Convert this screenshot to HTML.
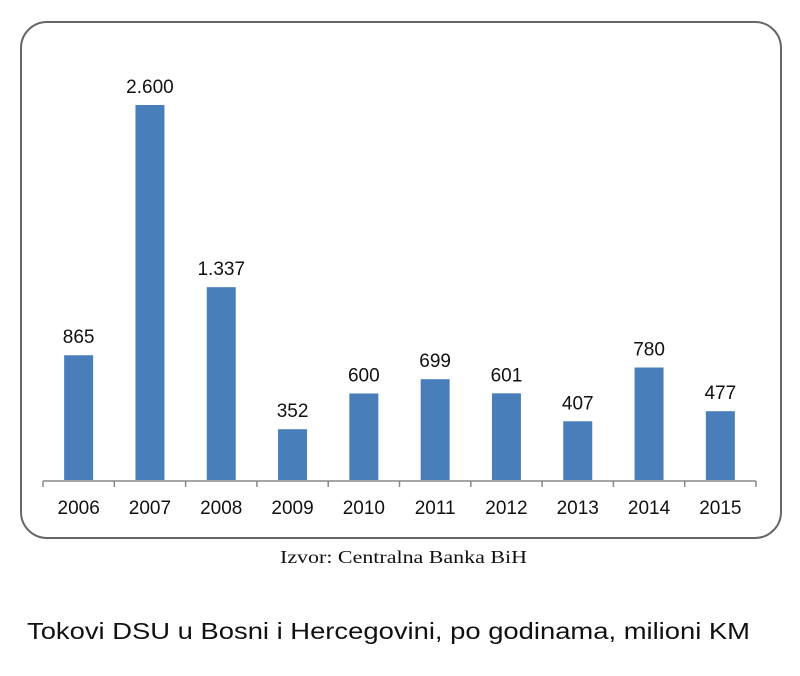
<!DOCTYPE html>
<html><head><meta charset="utf-8"><style>
body{margin:0;background:#fff;width:800px;height:676px;overflow:hidden}
svg{display:block}
</style></head><body>
<svg width="800" height="676">
<rect x="21" y="22" width="760" height="516" rx="26" fill="#fff" stroke="#666" stroke-width="2"/>
<g id="plot"></g>
<text x="280" y="563" textLength="247" lengthAdjust="spacingAndGlyphs" font-family="Liberation Serif, serif" font-size="18" fill="#111">Izvor: Centralna Banka BiH</text>
<text x="27" y="639" textLength="723" lengthAdjust="spacingAndGlyphs" font-family="Liberation Sans, sans-serif" font-size="23" fill="#111">Tokovi DSU u Bosni i Hercegovini, po godinama, milioni KM</text>
</svg>
<script>
const categories=["2006","2007","2008","2009","2010","2011","2012","2013","2014","2015"];
const values=[865,2600,1337,352,600,699,601,407,780,477];
const valueLabels=["865","2.600","1.337","352","600","699","601","407","780","477"];
const NS="http://www.w3.org/2000/svg";
const g=document.getElementById('plot');
const x0=43,step=71.3,base=480,scale=375/2600,bw=29;
const xc=i=>x0+step*(i+0.5);
const y=v=>base-v*scale;
function mk(t,a){const e=document.createElementNS(NS,t);for(const k in a)e.setAttribute(k,a[k]);g.appendChild(e);return e;}
const ax=mk('line',{x1:x0,x2:x0+step*categories.length,y1:base+1,y2:base+1,stroke:'#888','stroke-width':1.5});


for(let i=0;i<=categories.length;i++){
 const t=mk('line',{x1:x0+step*i,x2:x0+step*i,y1:base+1,y2:base+7,stroke:'#888','stroke-width':1.5});
 
 
}
categories.forEach((c,i)=>{
 const b=mk('rect',{x:xc(i)-bw/2,y:y(values[i]),width:bw,height:base-y(values[i]),fill:'#4a7ebb'});
 
 
 const l=mk('text',{x:xc(i),y:y(values[i])-12,'text-anchor':'middle','font-family':'Liberation Sans, sans-serif','font-size':19,fill:'#111'});
 l.textContent=valueLabels[i];
 
 
 const cl=mk('text',{x:xc(i),y:514,'text-anchor':'middle','font-family':'Liberation Sans, sans-serif','font-size':19,fill:'#111'});
 cl.textContent=c;
 
 
});
</script>
</body></html>
